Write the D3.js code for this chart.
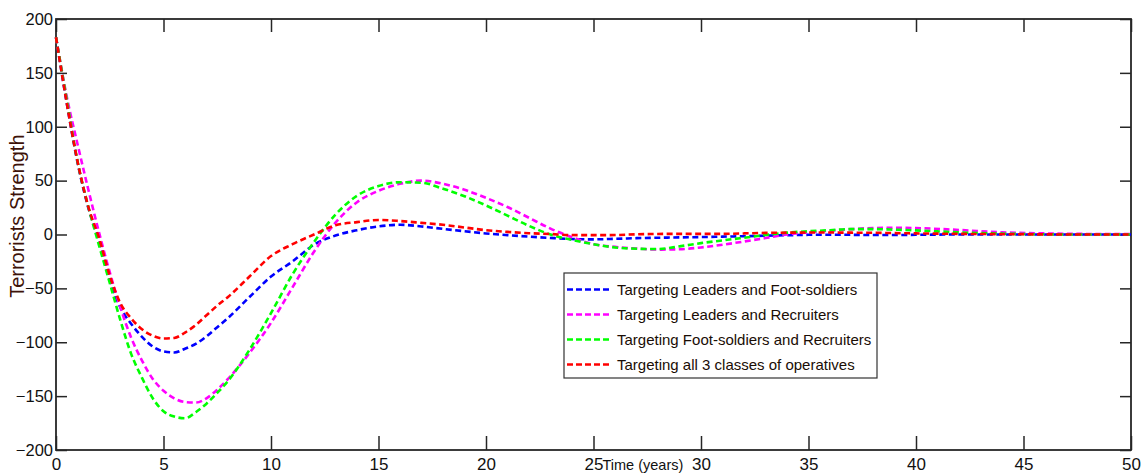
<!DOCTYPE html>
<html>
<head>
<meta charset="utf-8">
<script src="https://cdn.jsdelivr.net/npm/d3@7"></script>
<style>
  body { margin: 0; background: #fff; }
  svg { display: block; }
</style>
</head>
<body>
<svg id="chart" width="1143" height="474"></svg>
<script>
// time axis (years)
var times = [0, 0.5, 1, 1.5, 2, 2.5, 3, 3.5, 4, 4.5, 5, 5.5, 6, 6.5, 7, 7.5, 8,
  9, 10, 11, 12, 13, 14, 15, 16, 17, 18, 19, 20, 21, 22, 23, 24, 25, 26, 27, 28,
  29, 30, 31, 32, 33, 34, 35, 36, 37, 38, 39, 40, 42, 44, 46, 48, 50];

var leadersFoot = [183, 122, 67, 25, -5, -42, -68, -83, -95, -104, -108.5, -109.5, -106, -101.5, -94.5, -86, -77.5,
  -58, -39, -25, -9.5, -1, 4, 7.5, 9, 7.5, 5.2, 3, 1, -0.6, -2, -3.2, -4.2, -4.5, -4, -3.4, -3,
  -2.7, -2.4, -2, -1.6, -1.1, -0.7, -0.3, -0.2, -0.3, -0.5, -0.5, -0.3, 0, 0, 0, 0, 0];

var leadersRecruiters = [183, 128, 84, 42, 2, -35, -68, -96, -117, -134, -145, -152, -155.5, -156, -152, -144, -134,
  -110, -82, -49, -16, 11, 30, 40.5, 47, 50, 47, 41.5, 34, 25.5, 15.5, 5.5, -2.5, -9, -11.5, -13, -14,
  -13.7, -12, -9.5, -6.5, -3.3, 0, 2, 3.5, 5, 6, 6.3, 6, 4.2, 2, 1, 0.5, 0.3];

var footRecruiters = [183, 125, 68, 26, -10, -45, -80, -111, -133, -152, -164, -169, -170.5, -165, -157, -147, -136,
  -107, -73, -37, -7, 18.5, 36, 45, 48.5, 48, 42.5, 35.5, 27, 17.5, 8, 0, -5, -9, -12, -13.2, -13.5,
  -11, -8, -5.5, -3, -0.5, 1.7, 3, 4, 5, 5, 4.5, 3.8, 2, 0.8, 0.2, 0, 0];

var allThree = [183, 122, 68, 26, -3, -38, -64, -78, -88, -94, -96.5, -96, -91, -84, -75, -66, -58,
  -39, -20, -9, 0, 8.5, 11.5, 13.5, 12.5, 10.8, 9, 6.5, 4, 2.4, 1.2, 0.4, -0.5, -0.6, -0.5, 0.2, 0.5,
  0.6, 0.6, 0.6, 1, 1.5, 1.7, 1.8, 1.8, 1.7, 1.6, 1.3, 1, 0.6, 0.3, 0.1, 0, 0];

var seriesNames = [
  "Targeting Leaders and Foot-soldiers",
  "Targeting Leaders and Recruiters",
  "Targeting Foot-soldiers and Recruiters",
  "Targeting all 3 classes of operatives"
];
var seriesValues = [leadersFoot, leadersRecruiters, footRecruiters, allThree];
var seriesColors = ["#0000ff", "#ff00ff", "#00ff00", "#ff0000"];

var xTicks = [0, 5, 10, 15, 20, 25, 30, 35, 40, 45, 50];
var yTicks = [-200, -150, -100, -50, 0, 50, 100, 150, 200];

var svg = d3.select("#chart");
var margin = { top: 19, right: 12, bottom: 24, left: 56 };
var width = 1143 - margin.left - margin.right;
var height = 474 - margin.top - margin.bottom;

var g = svg.append("g")
  .attr("transform", "translate(" + margin.left + "," + margin.top + ")");

var x = d3.scaleLinear().domain([0, 50]).range([0, width]);
var y = d3.scaleLinear().domain([-200, 200]).range([height, 0]);

var axisColor = "#262626";
var tickFont = "'Liberation Sans', Arial, sans-serif";

// axes: inward ticks on all four sides, like matlab
function styleAxis(sel) {
  sel.select(".domain").remove();
  sel.selectAll(".tick line").attr("stroke", axisColor).attr("stroke-width", 1.5);
}

g.append("g")
  .attr("transform", "translate(0," + height + ")")
  .call(d3.axisBottom(x).tickValues(xTicks).tickSizeInner(-14).tickSizeOuter(0).tickPadding(8))
  .call(styleAxis)
  .selectAll("text")
  .attr("fill", "#111")
  .style("font-family", tickFont)
  .style("font-size", "17px");

g.append("g")
  .call(d3.axisTop(x).tickValues(xTicks).tickSizeInner(-13).tickSizeOuter(0).tickFormat(""))
  .call(styleAxis);

g.append("g")
  .call(d3.axisLeft(y).tickValues(yTicks).tickSizeInner(-11).tickSizeOuter(0).tickPadding(3))
  .call(styleAxis)
  .selectAll("text")
  .attr("fill", "#111")
  .style("font-family", tickFont)
  .style("font-size", "16.5px");

g.append("g")
  .attr("transform", "translate(" + width + ",0)")
  .call(d3.axisRight(y).tickValues(yTicks).tickSizeInner(-11).tickSizeOuter(0).tickFormat(""))
  .call(styleAxis);

// box
g.append("rect")
  .attr("x", 0)
  .attr("y", 0)
  .attr("width", width)
  .attr("height", height)
  .attr("fill", "none")
  .attr("stroke", axisColor)
  .attr("stroke-width", 1.8);

// curves
var line = d3.line()
  .x(function (d) { return x(d[0]); })
  .y(function (d) { return y(d[1]); })
  .curve(d3.curveMonotoneX);

seriesValues.forEach(function (vals, i) {
  g.append("path")
    .datum(times.map(function (t, j) { return [t, vals[j]]; }))
    .attr("fill", "none")
    .attr("stroke", seriesColors[i])
    .attr("stroke-width", 2.6)
    .attr("stroke-dasharray", "6,3.5")
    .attr("d", line);
});

// axis labels
svg.append("text")
  .attr("transform", "translate(24," + (margin.top + y(17)) + ") rotate(-90)")
  .attr("text-anchor", "middle")
  .attr("fill", "#3d1208")
  .style("font-family", tickFont)
  .style("font-size", "20px")
  .text("Terrorists Strength");

svg.append("text")
  .attr("x", margin.left + x(25) + 9)
  .attr("y", 470)
  .attr("fill", "#111")
  .style("font-family", tickFont)
  .style("font-size", "14.5px")
  .text("Time (years)");

// legend
var legend = svg.append("g").attr("transform", "translate(564,273)");
legend.append("rect")
  .attr("width", 313)
  .attr("height", 105)
  .attr("fill", "#fff")
  .attr("stroke", "#333")
  .attr("stroke-width", 1.2);

var items = legend.selectAll(".item")
  .data(seriesNames)
  .enter()
  .append("g")
  .attr("class", "item")
  .attr("transform", function (d, i) { return "translate(0," + (16.5 + i * 25) + ")"; });

items.append("line")
  .attr("x1", 3)
  .attr("x2", 46)
  .attr("stroke", function (d, i) { return seriesColors[i]; })
  .attr("stroke-width", 2.4)
  .attr("stroke-dasharray", "6,3");

items.append("text")
  .attr("x", 53)
  .attr("dy", "0.35em")
  .attr("fill", "#1a0d05")
  .style("font-family", tickFont)
  .style("font-size", "15px")
  .text(function (d) { return d; });
</script>
</body>
</html>
